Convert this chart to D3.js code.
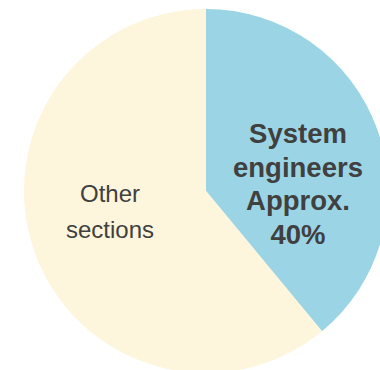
<!DOCTYPE html>
<html>
<head>
    <meta charset="utf-8">
    <script src="https://cdn.jsdelivr.net/npm/d3@7/dist/d3.min.js"></script>
    <style>
        body { margin: 0; background: #fff; }
        .label { text-anchor: middle; fill: #404040; font-family: "Liberation Sans", Arial, sans-serif; }
    </style>
</head>
<body>
    <svg id="chart"></svg>
    <script>
        var sections = ["System engineers", "Other sections"];
        var shares = [39, 61];
        var colors = ["#9bd5e5", "#fdf6dc"];
        var labelLines = [["System", "engineers", "Approx.", "40%"], ["Other", "sections"]];

        var width = 380, height = 370,
            radius = 182,
            cx = 206, cy = 191;

        var svg = d3.select("#chart")
            .attr("width", width)
            .attr("height", height);

        var g = svg.append("g")
            .attr("transform", "translate(" + cx + "," + cy + ")");

        var pie = d3.pie().sort(null).value(function(d) { return d; });
        var arc = d3.arc().innerRadius(0).outerRadius(radius);

        var arcs = pie(shares);

        g.selectAll(".slice")
            .data(arcs)
            .enter()
            .append("path")
            .attr("class", "slice")
            .attr("d", arc)
            .attr("fill", function(d, i) { return colors[i]; });

        // label for the blue slice: bold, stacked
        var bold = g.append("text")
            .attr("class", "label")
            .style("font-weight", "bold")
            .style("font-size", "27.5px");
        labelLines[0].forEach(function(t, i) {
            bold.append("tspan")
                .attr("x", 92)
                .attr("y", -48 + i * 33.7)
                .text(t);
        });

        // label for the other slice
        var plain = g.append("text")
            .attr("class", "label")
            .style("font-size", "24px");
        labelLines[1].forEach(function(t, i) {
            plain.append("tspan")
                .attr("x", -96)
                .attr("y", 10.5 + i * 36)
                .text(t);
        });
    </script>
</body>
</html>
